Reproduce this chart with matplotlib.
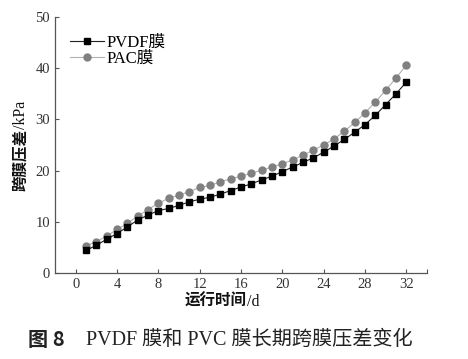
import numpy as np
import matplotlib
matplotlib.use("Agg")
import matplotlib.pyplot as plt

plt.rcParams['font.family'] = ['Liberation Serif', 'Noto Sans CJK SC']

days = list(range(1, 33))
pvdf = [4.4, 5.4, 6.6, 7.7, 9.0, 10.35, 11.3, 12.2, 12.6, 13.2, 13.9, 14.4, 14.8, 15.4, 16.1, 16.8,
        17.4, 18.2, 18.9, 19.8, 20.7, 21.6, 22.5, 23.6, 24.8, 26.1, 27.5, 29.0, 30.8, 32.9, 35.0, 37.3]
pac = [5.3, 6.1, 7.2, 8.5, 9.7, 11.1, 12.4, 13.6, 14.6, 15.2, 15.9, 16.7, 17.1, 17.8, 18.4, 18.9,
       19.5, 20.1, 20.7, 21.3, 22.1, 23.0, 24.0, 25.0, 26.2, 27.7, 29.4, 31.3, 33.4, 35.7, 38.1, 40.6]
xticks = [0, 4, 8, 12, 16, 20, 24, 28, 32]
yticks = [0, 10, 20, 30, 40, 50]

fig = plt.figure(figsize=(4.68, 3.59), dpi=100)
ax = fig.add_axes([0.1175, 0.2396, 0.795, 0.713])

ax.plot(days, pac, '-', color='#b0b0b0', lw=0.8, marker='o', ms=5, mfc='#808080', mec='#808080', label='PAC膜', zorder=2)
ax.plot(days, pvdf, '-', color='#222222', lw=0.8, marker='s', ms=4.3, mfc='black', mec='black', label='PVDF膜', zorder=3)

ax.set_xlim(-2, 34)
ax.set_ylim(0, 50)
ax.set_xticks(xticks + [34])
ax.set_xticklabels([str(t) for t in xticks] + [''])
ax.set_yticks(yticks)
for s in ['top', 'right']:
    ax.spines[s].set_visible(False)
for s in ['left', 'bottom']:
    ax.spines[s].set_color('#555555')
    ax.spines[s].set_linewidth(0.9)
ax.tick_params(direction='in', length=3, width=0.8, colors='#555555', labelcolor='#333333', labelsize=10.5)

# axis labels: bold Chinese part, regular unit part
fig.text(0.528, 0.159, '运行时间', ha='right', va='center', fontsize=11.2, fontweight='bold', color='#111111')
fig.text(0.528, 0.159, '/d', ha='left', va='center', fontsize=11.5, color='#111111')
fig.text(0.045, 0.64, '跨膜压差', rotation=90, rotation_mode='anchor', ha='right', va='center',
         fontsize=11.2, fontweight='bold', color='#111111')
fig.text(0.045, 0.64, '/kPa', rotation=90, rotation_mode='anchor', ha='left', va='center',
         fontsize=11.5, color='#111111')

h, l = ax.get_legend_handles_labels()
ax.legend(h[::-1], l[::-1], loc='upper left', bbox_to_anchor=(0.01, 0.975), frameon=False,
          fontsize=12, handlelength=2.0, handletextpad=0.15, labelspacing=0.0, borderaxespad=0.3)

fig.text(28 / 468, 0.053, '图 8', ha='left', va='center', fontsize=14.5, fontweight='bold',
         family='Noto Sans CJK SC', color='#222222')
fig.text(413 / 468, 0.053, 'PVDF 膜和 PVC 膜长期跨膜压差变化', ha='right', va='center', fontsize=14.5, color='#222222')

fig.savefig('out.png', dpi=100)
